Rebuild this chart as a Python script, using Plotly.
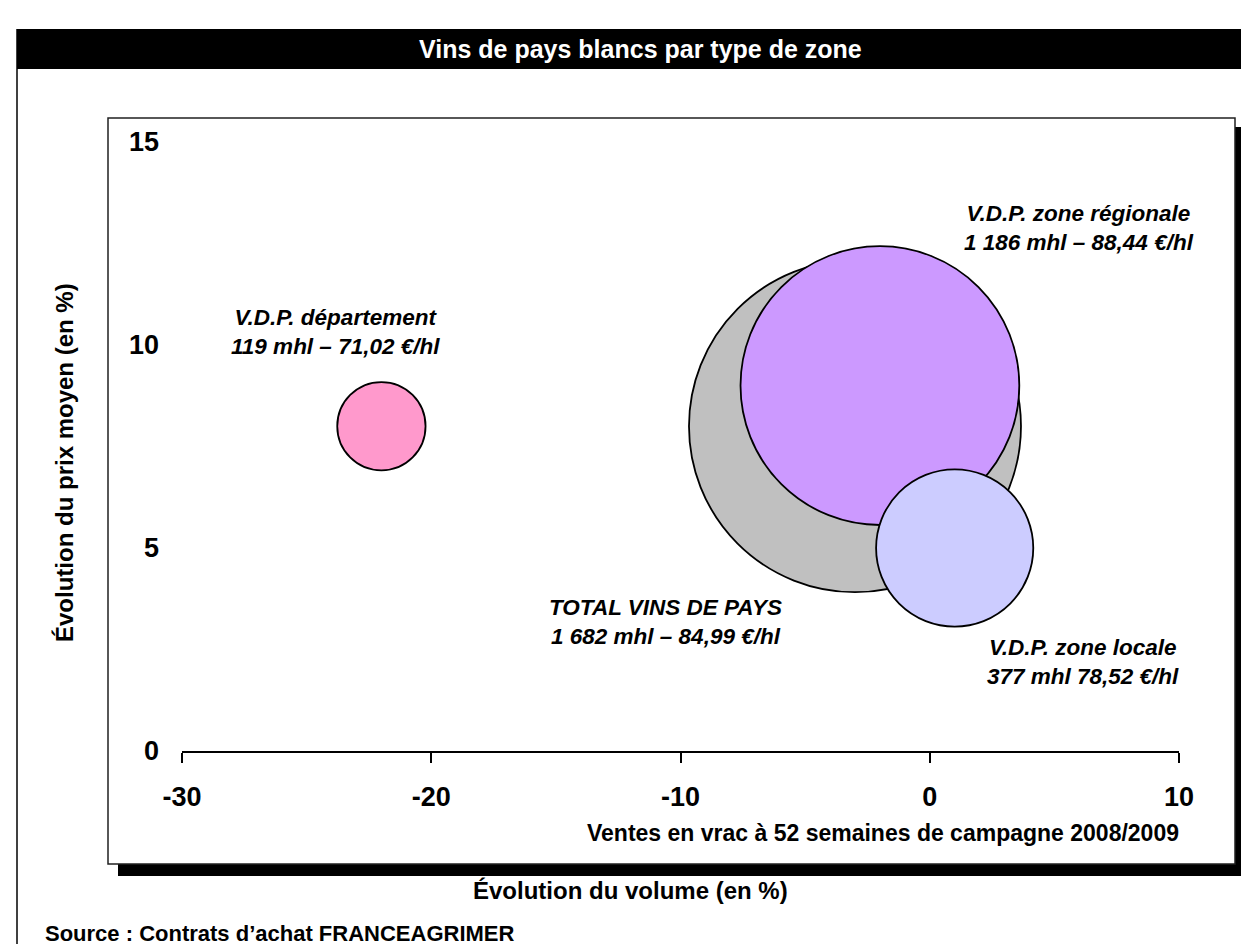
import plotly.graph_objects as go

# ---- data ----
names = ["V.D.P. département", "TOTAL VINS DE PAYS", "V.D.P. zone régionale", "V.D.P. zone locale"]
volume_evol = [-22, -3, -2, 1]          # Évolution du volume (%)
price_evol = [8, 8, 9, 5]               # Évolution du prix moyen (%)
volumes_mhl = [119, 1682, 1186, 377]    # bubble size (mhl)
details = ["119 mhl – 71,02 €/hl", "1 682 mhl – 84,99 €/hl",
           "1 186 mhl – 88,44 €/hl", "377 mhl 78,52 €/hl"]
colors = ["#FF99CC", "#C0C0C0", "#CC99FF", "#CCCCFF"]
x_ticks = [-30, -20, -10, 0, 10]
x_ticktext = ["-30", "-20", "-10", "0", "10"]
y_ticks = [0, 5, 10, 15]
y_ticktext = ["0", "5", "10", "15"]

W, H = 1249, 944
L, R, T, B = 174, 1171, 134, 743   # plot area in px
FONT = "Arial, Liberation Sans, sans-serif"

def px(xp):
    return (xp - L) / (R - L)

def py(yp):
    return (B - yp) / (B - T)

max_diam = 332
sizeref = 2.0 * max(volumes_mhl) / max_diam ** 2

fig = go.Figure()
fig.add_trace(go.Scatter(
    x=volume_evol, y=price_evol, mode="markers",
    marker=dict(size=volumes_mhl, sizemode="area", sizeref=sizeref,
                color=colors, opacity=1, line=dict(color="black", width=1.8)),
    cliponaxis=False, hoverinfo="skip", showlegend=False,
))

# labels, offset in px from bubble centres
offsets = [(-46, 94), (-189, -196), (199, 158), (128, -114)]
annotations = []
for i in range(len(names)):
    annotations.append(dict(
        x=volume_evol[i], y=price_evol[i], xref="x", yref="y",
        text=names[i] + "<br>" + details[i], showarrow=False,
        xshift=offsets[i][0], yshift=offsets[i][1], align="center",
        font=dict(family=FONT, size=22.5, color="black", weight="bold", style="italic"),
    ))

annotations += [
    dict(text="Vins de pays blancs par type de zone", x=px(632), y=py(41),
         xref="paper", yref="paper", showarrow=False, xanchor="center", yanchor="middle",
         font=dict(family=FONT, size=25, color="white", weight="bold")),
    dict(text="Évolution du prix moyen (en %)", x=px(56), y=py(455),
         xref="paper", yref="paper", showarrow=False, textangle=-90,
         xanchor="center", yanchor="middle",
         font=dict(family=FONT, size=24, color="black", weight="bold")),
    dict(text="Évolution du volume (en %)", x=px(622), y=py(882),
         xref="paper", yref="paper", showarrow=False, xanchor="center", yanchor="middle",
         font=dict(family=FONT, size=24, color="black", weight="bold")),
    dict(text="Ventes en vrac à 52 semaines de campagne 2008/2009", x=px(1173), y=py(825),
         xref="paper", yref="paper", showarrow=False, xanchor="right", yanchor="middle",
         font=dict(family=FONT, size=23, color="black", weight="bold")),
    dict(text="Source : Contrats d’achat FRANCEAGRIMER", x=px(35), y=py(925),
         xref="paper", yref="paper", showarrow=False, xanchor="left", yanchor="middle",
         font=dict(family=FONT, size=22, color="black", weight="bold")),
]

shapes = [
    # title bar
    dict(type="rect", xref="paper", yref="paper", x0=px(9), x1=px(1260), y0=py(21), y1=py(61),
         fillcolor="black", line=dict(width=0), layer="below"),
    # outer frame left
    dict(type="line", xref="paper", yref="paper", x0=px(9), x1=px(9), y0=py(21), y1=py(950),
         line=dict(color="black", width=1.5), layer="below"),
    # shadow
    dict(type="rect", xref="paper", yref="paper", x0=px(110), x1=px(1238), y0=py(119), y1=py(868),
         fillcolor="black", line=dict(width=0), layer="below"),
    # inner box
    dict(type="rect", xref="paper", yref="paper", x0=px(100), x1=px(1227), y0=py(110), y1=py(856),
         fillcolor="white", line=dict(color="#202020", width=1.5), layer="below"),
]

fig.update_layout(
    width=W, height=H, autosize=False,
    margin=dict(l=L, r=W - R, t=T, b=H - B, pad=0),
    paper_bgcolor="white", plot_bgcolor="rgba(0,0,0,0)",
    showlegend=False,
    shapes=shapes, annotations=annotations,
    xaxis=dict(range=[-30, 10], tickvals=x_ticks, ticktext=x_ticktext,
               showline=True, linecolor="black", linewidth=1.5,
               ticks="outside", ticklen=10, tickwidth=1.5, tickcolor="black",
               ticklabelstandoff=11, showgrid=False, zeroline=False,
               tickfont=dict(family=FONT, size=27, color="black", weight="bold"),
               fixedrange=True),
    yaxis=dict(range=[0, 15], tickvals=y_ticks, ticktext=y_ticktext,
               showline=False, ticks="", ticklabelstandoff=22,
               showgrid=False, zeroline=False,
               tickfont=dict(family=FONT, size=27, color="black", weight="bold"),
               fixedrange=True),
    yaxis2=dict(range=[0, 15], tickvals=y_ticks, overlaying="y", anchor="free",
                position=0.75, side="left", showline=True, linecolor="black", linewidth=1.5,
                ticks="outside", ticklen=10, tickwidth=1.5, tickcolor="black",
                showticklabels=False, showgrid=False, zeroline=False,
                layer="below traces", fixedrange=True),
)
fig.write_html("out.html")
